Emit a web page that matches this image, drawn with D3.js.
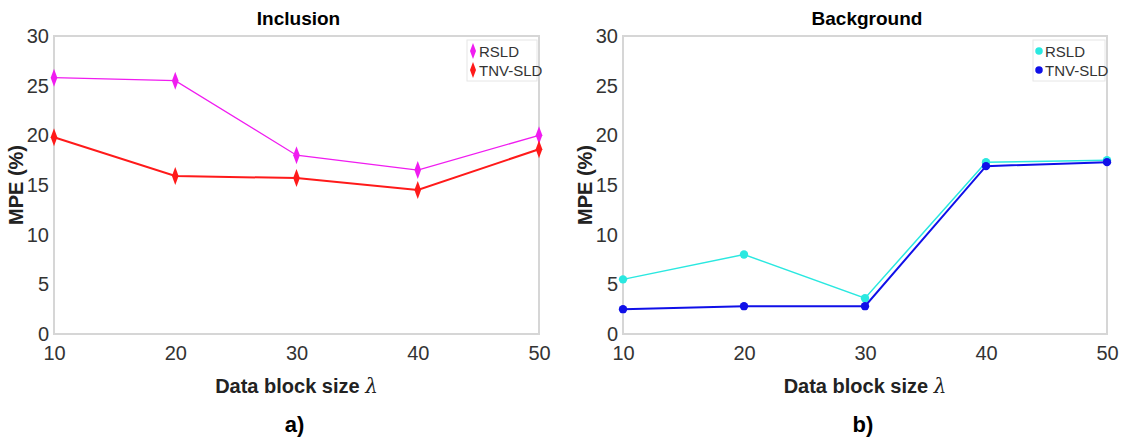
<!DOCTYPE html>
<html>
<head>
<meta charset="utf-8">
<script src="https://cdn.jsdelivr.net/npm/d3@7"></script>
<style>
  body { margin: 0; background: #fff; }
  text { font-family: "Liberation Sans Narrow", "Liberation Sans", Arial, sans-serif; }
</style>
</head>
<body>
<div id="chart"></div>
<script>
// data
var blockSizes = [10, 20, 30, 40, 50];
var yTicks = [0, 5, 10, 15, 20, 25, 30];
var seriesNames = ["RSLD", "TNV-SLD"];

var inclusionRSLD = [25.8, 25.5, 18.0, 16.5, 20.0];
var inclusionTNV = [19.8, 15.9, 15.7, 14.5, 18.6];

var backgroundRSLD = [5.5, 8.0, 3.6, 17.3, 17.5];
var backgroundTNV = [2.5, 2.8, 2.8, 16.9, 17.3];

var svg = d3.select("#chart")
  .append("svg")
    .attr("width", 1126)
    .attr("height", 441);

//one function per panel
function drawPanel(opts) {
  var left = opts.left, right = opts.right, top = 36, bottom = 334;

  var x = d3.scaleLinear().domain([10, 50]).range([left, right]);
  var y = d3.scaleLinear().domain([0, 30]).range([bottom, top]);

  var g = svg.append("g");

  //box round the plot area
  g.append("rect")
    .attr("x", left).attr("y", top)
    .attr("width", right - left).attr("height", bottom - top)
    .attr("fill", "none")
    .attr("stroke", "#d6d6d6")
    .attr("stroke-width", 2);

  //axes (labels only, ticks are tiny in the original)
  var yAxis = g.append("g")
    .attr("transform", "translate(" + left + ",0)")
    .call(d3.axisLeft(y).tickValues(yTicks).tickSize(0).tickPadding(5));
  yAxis.select(".domain").remove();
  yAxis.selectAll("text")
    .style("font-size", "20px")
    .style("fill", "#333");

  var xAxis = g.append("g")
    .attr("transform", "translate(0," + bottom + ")")
    .call(d3.axisBottom(x).tickValues(blockSizes).tickSize(0).tickPadding(12));
  xAxis.select(".domain").remove();
  xAxis.selectAll("text")
    .style("font-size", "20px")
    .style("fill", "#333");

  //title
  g.append("text")
    .attr("x", (left + right) / 2 + 2)
    .attr("y", 25)
    .attr("text-anchor", "middle")
    .style("font-size", "19px")
    .style("font-weight", "bold")
    .text(opts.title);

  //x label
  var xl = g.append("text")
    .attr("x", (left + right) / 2)
    .attr("y", 393)
    .attr("text-anchor", "middle")
    .style("font-size", "20px")
    .style("font-weight", "bold")
    .style("fill", "#222");
  xl.append("tspan").text("Data block size ");
  xl.append("tspan")
    .style("font-family", "'DejaVu Serif', serif")
    .style("font-style", "italic")
    .style("font-weight", "normal")
    .text("λ");

  //y label
  g.append("text")
    .attr("transform", "translate(" + (left - 31) + "," + ((top + bottom) / 2) + ") rotate(-90)")
    .attr("text-anchor", "middle")
    .style("font-size", "20px")
    .style("font-weight", "bold")
    .style("fill", "#222")
    .text("MPE (%)");

  //panel letter
  g.append("text")
    .attr("x", (left + right) / 2 - 2)
    .attr("y", 432)
    .attr("text-anchor", "middle")
    .style("font-size", "22px")
    .style("font-weight", "bold")
    .text(opts.letter);

  var line = d3.line()
    .x(function(d, i) { return x(blockSizes[i]); })
    .y(function(d) { return y(d); });

  var symbol = d3.symbol().type(opts.symbolType).size(opts.symbolSize);

  opts.series.forEach(function(s) {
    g.append("path")
      .datum(s.values)
      .attr("d", line)
      .attr("fill", "none")
      .attr("stroke", s.color)
      .attr("stroke-width", s.width);

    g.selectAll(null)
      .data(s.values)
      .enter().append("path")
        .attr("d", symbol)
        .attr("transform", function(d, i) {
          return "translate(" + x(blockSizes[i]) + "," + y(d) + ")" + opts.symbolScale;
        })
        .attr("fill", s.color);
  });

  //legend
  var lg = g.append("g").attr("transform", "translate(" + (right - opts.legendW - 2) + "," + (top + 4) + ")");
  lg.append("rect")
    .attr("width", opts.legendW).attr("height", 41)
    .attr("fill", "#fff")
    .attr("stroke", "#e6e6e6");
  opts.series.forEach(function(s, i) {
    lg.append("path")
      .attr("d", d3.symbol().type(opts.symbolType).size(opts.symbolSize * 0.8))
      .attr("transform", "translate(6," + (11 + i * 19) + ")" + opts.symbolScale)
      .attr("fill", s.color);
    lg.append("text")
      .attr("x", 12).attr("y", 17 + i * 19)
      .style("font-size", "15px")
      .style("fill", "#333")
      .text(seriesNames[i]);
  });
}

drawPanel({
  left: 54, right: 539, title: "Inclusion", letter: "a)",
  symbolType: d3.symbolDiamond, symbolSize: 60, symbolScale: " scale(0.8,1.25)",
  legendW: 70,
  series: [
    {values: inclusionRSLD, color: "#f01cf0", width: 1.3},
    {values: inclusionTNV, color: "#ff1a1a", width: 2}
  ]
});

drawPanel({
  left: 623, right: 1107, title: "Background", letter: "b)",
  symbolType: d3.symbolCircle, symbolSize: 55, symbolScale: "",
  legendW: 72,
  series: [
    {values: backgroundRSLD, color: "#2ae8e0", width: 1.5},
    {values: backgroundTNV, color: "#1010e8", width: 2}
  ]
});
</script>
</body>
</html>
